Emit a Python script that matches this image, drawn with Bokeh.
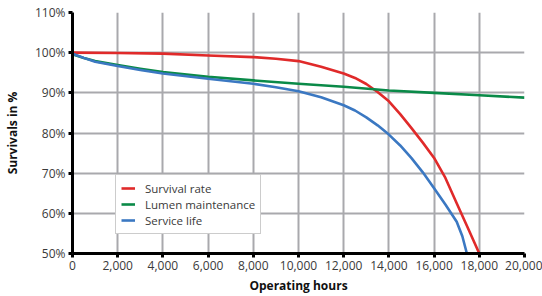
from bokeh.plotting import figure
from bokeh.models import Legend, LegendItem, FixedTicker
from bokeh.embed import file_html
from bokeh.resources import INLINE

# Data
survival_hours = [0, 2000, 4000, 6000, 8000, 9000, 10000, 11000, 12000, 12500, 13000, 13500,
                  14000, 14500, 15000, 15500, 16000, 16500, 17000, 17500, 18000]
survival_pct = [100, 99.9, 99.75, 99.3, 98.9, 98.5, 97.9, 96.5, 94.8, 93.7, 92.2, 90.2,
                87.9, 84.7, 81.2, 77.6, 73.8, 68.8, 62.5, 56.3, 50.0]

lumen_hours = [0, 500, 1000, 2000, 3000, 4000, 6000, 8000, 10000, 12000, 14000, 16000, 18000, 20000]
lumen_pct = [99.6, 98.7, 97.9, 96.9, 96.0, 95.2, 94.0, 93.1, 92.25, 91.5, 90.6, 90.0, 89.4, 88.8]

service_hours = [0, 500, 1000, 2000, 3000, 4000, 6000, 8000, 9000, 10000, 11000, 12000, 12500, 13000,
                 13500, 14000, 14500, 15000, 15500, 16000, 16500, 17000, 17250, 17450]
service_pct = [99.75, 98.7, 97.75, 96.7, 95.7, 94.8, 93.5, 92.25, 91.4, 90.4, 88.9, 86.9, 85.6, 83.9,
               81.9, 79.6, 76.9, 73.75, 70.2, 66.25, 62.2, 57.9, 54.3, 50.0]

x_ticks = [0, 2000, 4000, 6000, 8000, 10000, 12000, 14000, 16000, 18000, 20000]
x_tick_labels = ["0", "2,000", "4,000", "6,000", "8,000", "10,000", "12,000", "14,000", "16,000", "18,000", "20,000"]
y_ticks = [50, 60, 70, 80, 90, 100, 110]
y_tick_labels = ["50%", "60%", "70%", "80%", "90%", "100%", "110%"]

series_names = ["Survival rate", "Lumen maintenance", "Service life"]
series_colors = ["#e02a2a", "#0a8a48", "#3b78c2"]

FONT = "Open Sans"
TEXT = "#3a3a3a"

p = figure(width=542, height=296, x_range=(0, 20000), y_range=(50, 110),
           output_backend="svg", toolbar_location=None,
           min_border_left=71, min_border_right=18, min_border_top=12, min_border_bottom=0)
p.outline_line_color = None

r1 = p.line(survival_hours, survival_pct, line_color=series_colors[0], line_width=2.6, line_join="round")
r2 = p.line(lumen_hours, lumen_pct, line_color=series_colors[1], line_width=2.6, line_join="round")
r3 = p.line(service_hours, service_pct, line_color=series_colors[2], line_width=2.6, line_join="round")

p.xaxis.ticker = FixedTicker(ticks=x_ticks)
p.yaxis.ticker = FixedTicker(ticks=y_ticks)
p.xaxis.major_label_overrides = dict(zip(x_ticks, x_tick_labels))
p.yaxis.major_label_overrides = dict(zip(y_ticks, y_tick_labels))

for ax in (p.xaxis, p.yaxis):
    ax.axis_line_color = "black"
    ax.axis_line_width = 3
    ax.major_tick_line_color = "black"
    ax.major_tick_line_width = 3
    ax.major_tick_out = 4
    ax.major_tick_in = 0
    ax.minor_tick_line_color = None
    ax.major_label_text_font = FONT
    ax.major_label_text_font_size = "12px"
    ax.major_label_text_color = TEXT
    ax.axis_label_text_font = FONT
    ax.axis_label_text_font_size = "12px"
    ax.axis_label_text_font_style = "bold"
    ax.axis_label_text_color = "#111111"
    ax.major_label_standoff = 3

p.xaxis.axis_label = "Operating hours"
p.yaxis.axis_label = "Survivals in %"
p.xaxis.axis_label_standoff = 4
p.yaxis.axis_label_standoff = 11

p.grid.grid_line_color = "#a9a9ad"
p.grid.grid_line_width = 2

legend = Legend(items=[
    LegendItem(label=series_names[0], renderers=[r1]),
    LegendItem(label=series_names[1], renderers=[r2]),
    LegendItem(label=series_names[2], renderers=[r3]),
], location=(43, 19))
legend.label_text_font = FONT
legend.label_text_font_size = "11.5px"
legend.label_text_color = TEXT
legend.glyph_width = 14
legend.glyph_height = 16
legend.label_height = 16
legend.label_standoff = 10
legend.spacing = 0
legend.padding = 5
legend.margin = 0
legend.border_line_color = "#9a9a9a"
legend.border_line_width = 1
legend.background_fill_color = "white"
legend.background_fill_alpha = 1.0
p.add_layout(legend, "center")

open("out.html", "w").write(file_html(p, INLINE))
